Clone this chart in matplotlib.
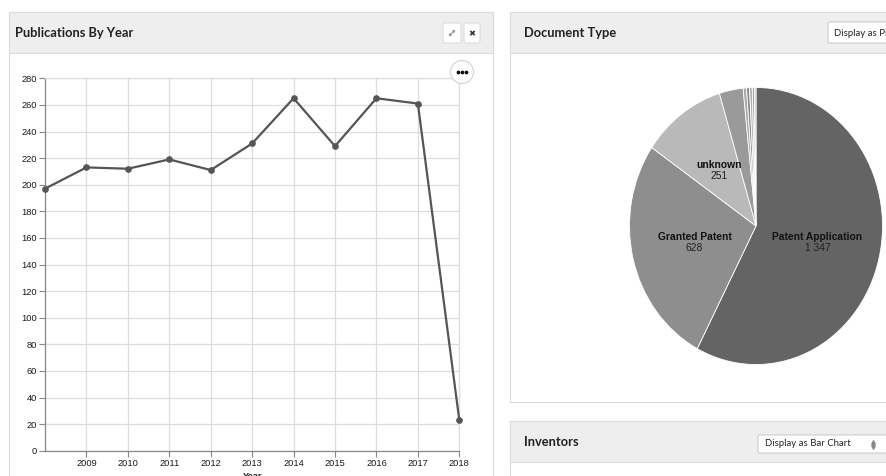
import matplotlib
matplotlib.use('Agg')
import matplotlib.pyplot as plt
from matplotlib.patches import Rectangle, Circle, FancyBboxPatch
import numpy as np

# ---------------- data ----------------
years = [2008, 2009, 2010, 2011, 2012, 2013, 2014, 2015, 2016, 2017, 2018]
publications = [197, 213, 212, 219, 211, 231, 265, 229, 265, 261, 23]
year_ticks = [2009, 2010, 2011, 2012, 2013, 2014, 2015, 2016, 2017, 2018]
count_ticks = [0, 20, 40, 60, 80, 100, 120, 140, 160, 180, 200, 220, 240, 260, 280]

doc_types = ["Patent Application", "Granted Patent", "unknown", "Utility Model",
             "Design", "Search Report", "Amended Application", "Limited Patent", "Other"]
doc_counts = [1347, 628, 251, 71, 10, 9, 8, 6, 5]
doc_count_labels = ["1 347", "628", "251"]
doc_colors = ['#646464', '#8e8e8e', '#b9b9b9', '#9a9a9a', '#aaaaaa', '#8a8a8a',
              '#b3b3b3', '#9c9c9c', '#c2c2c2']

W, H = 886, 476
fig = plt.figure(figsize=(W / 100, H / 100), dpi=100)
fig.patch.set_facecolor('white')

bg = fig.add_axes([0, 0, 1, 1])
bg.set_xlim(0, W)
bg.set_ylim(H, 0)
bg.axis('off')


def px_axes(x0, y0, x1, y1, **kw):
    return fig.add_axes([x0 / W, 1 - y1 / H, (x1 - x0) / W, (y1 - y0) / H], **kw)


BORDER = '#dcdcdc'
HEAD = '#eeeeee'
TITLE_FONT = 'Lato'


def panel(x, y, w, h, head_h=41):
    bg.add_patch(Rectangle((x, y), w, h, fc='white', ec=BORDER, lw=0.8))
    bg.add_patch(Rectangle((x, y), w, head_h, fc=HEAD, ec=BORDER, lw=0.8))


# panels
panel(9, 12, 484, 500)
panel(510, 12, 420, 390)
panel(510, 421, 420, 100)

bg.text(15, 33, "Publications By Year", fontsize=9.3, fontweight='bold',
        family=TITLE_FONT, color='#222222', va='center', ha='left')
bg.text(524, 33, "Document Type", fontsize=9.3, fontweight='bold',
        family=TITLE_FONT, color='#222222', va='center', ha='left')
bg.text(524, 442, "Inventors", fontsize=9.3, fontweight='bold',
        family=TITLE_FONT, color='#222222', va='center', ha='left')

# header buttons (left panel)
bg.add_patch(FancyBboxPatch((443, 23), 18, 20, boxstyle='round,pad=0,rounding_size=2',
                            fc='white', ec='#dddddd', lw=0.8))
bg.add_patch(FancyBboxPatch((464, 23), 16, 20, boxstyle='round,pad=0,rounding_size=2',
                            fc='white', ec='#dddddd', lw=0.8))
bg.annotate('', xy=(455.5, 29.5), xytext=(448.5, 36.5),
            arrowprops=dict(arrowstyle='<|-|>', color='#999999', lw=0.7,
                            mutation_scale=4, shrinkA=0, shrinkB=0))
bg.text(472, 33.5, '✖', fontsize=6, color='#333333', ha='center', va='center',
        family='DejaVu Sans')

# select buttons
bg.add_patch(FancyBboxPatch((828, 22), 80, 21, boxstyle='round,pad=0,rounding_size=2',
                            fc='white', ec='#cccccc', lw=0.8))
bg.text(834, 33, "Display as Pie Chart", fontsize=6.9, family=TITLE_FONT,
        color='#222222', va='center', ha='left', clip_on=True)
bg.add_patch(FancyBboxPatch((758, 435), 140, 18, boxstyle='round,pad=0,rounding_size=2',
                            fc='white', ec='#cccccc', lw=0.8))
bg.text(765, 444, "Display as Bar Chart", fontsize=6.9, family=TITLE_FONT,
        color='#222222', va='center', ha='left', clip_on=True)
bg.plot([873.5], [441.5], marker='^', ms=2.6, color='#888888', ls='none')
bg.plot([873.5], [446.5], marker='v', ms=2.6, color='#888888', ls='none')

# ---------------- line chart ----------------
ax = px_axes(45, 78.3, 459.3, 450.7)
ax.plot(years, publications, color='#555555', lw=1.6, marker='o', ms=3.8,
        zorder=3, clip_on=False)
ax.set_xlim(2008, 2018)
ax.set_ylim(0, 280)
ax.set_xticks(year_ticks)
ax.set_xticklabels([str(y) for y in year_ticks])
ax.set_yticks(count_ticks)
ax.set_xticks(years, minor=True)
ax.grid(True, which='both', color='#dddddd', lw=0.9)
ax.set_axisbelow(True)
for s in ['top', 'right']:
    ax.spines[s].set_color('#dddddd')
    ax.spines[s].set_linewidth(0.9)
for s in ['left', 'bottom']:
    ax.spines[s].set_color('#888888')
    ax.spines[s].set_linewidth(0.9)
ax.tick_params(axis='both', which='major', length=4, width=0.8, color='#888888',
               labelsize=6.7, labelcolor='#1a1a1a', pad=2)
ax.tick_params(axis='x', which='minor', length=0)
for lab in ax.get_xticklabels() + ax.get_yticklabels():
    lab.set_family('Liberation Sans')
ax.set_xlabel('Year', fontsize=6.7, fontweight='bold', family='Liberation Sans',
              color='#222222', labelpad=3)

# ---------------- pie chart ----------------
cx, cy, rx, ry = 756, 226, 126.5, 138.5
pax = px_axes(cx - rx, cy - ry, cx + rx, cy + ry)
wedges, _ = pax.pie(doc_counts, colors=doc_colors, startangle=90, counterclock=False,
                    wedgeprops=dict(edgecolor='white', linewidth=0.6))
pax.set_aspect('auto')
pax.set_xlim(-1, 1)
pax.set_ylim(-1, 1)
pax.axis('off')
for w, name, cnt in zip(wedges[:3], doc_types[:3], doc_count_labels):
    ang = np.deg2rad((w.theta1 + w.theta2) / 2)
    x, y = 0.5 * np.cos(ang), 0.5 * np.sin(ang)
    pax.annotate(name, xy=(x, y), xytext=(0, 3.8), textcoords='offset points',
                 ha='center', va='center', fontsize=7.4, fontweight='bold',
                 family='Liberation Sans', color='#111111')
    pax.annotate(cnt, xy=(x, y), xytext=(0, -4.2), textcoords='offset points',
                 ha='center', va='center', fontsize=7.4,
                 family='Liberation Sans', color='#222222')

# ---------------- overlay "..." button ----------------
ov = fig.add_axes([0, 0, 1, 1])
ov.set_xlim(0, W)
ov.set_ylim(H, 0)
ov.axis('off')
ov.patch.set_alpha(0)
ov.add_patch(Circle((462, 72), 11.5, fc='white', ec='#d5d5d5', lw=0.9))
ov.plot([458.4, 462, 465.6], [72, 72, 72], 'o', color='#111111', ms=1.7)

fig.savefig('out.png', dpi=100)
